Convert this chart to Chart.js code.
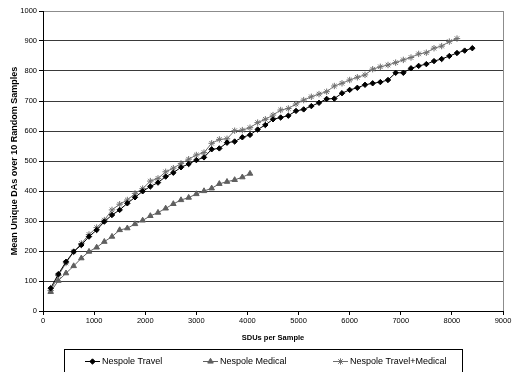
<!DOCTYPE html>
<html>
<head>
<meta charset="utf-8">
<script src="https://cdn.jsdelivr.net/npm/chart.js@4/dist/chart.umd.min.js"></script>
<style>
  html, body { margin: 0; padding: 0; background: #fff; }
  #wrap { width: 512px; height: 372px; }
</style>
</head>
<body>
<div id="wrap"><canvas id="lineChart" width="512" height="372"></canvas></div>
<script>
/*==========================================================
DATOS
==========================================================*/
// SDUs per sample (x) shared by the three series
var sduSteps = [150, 300, 450, 600, 750, 900, 1050, 1200, 1350, 1500, 1650, 1800, 1950, 2100,
  2250, 2400, 2550, 2700, 2850, 3000, 3150, 3300, 3450, 3600, 3750, 3900, 4050, 4200,
  4350, 4500, 4650, 4800, 4950, 5100, 5250, 5400, 5550, 5700, 5850, 6000, 6150, 6300,
  6450, 6600, 6750, 6900, 7050, 7200, 7350, 7500, 7650, 7800, 7950, 8100, 8250, 8400];

var seriesNames = ["Nespole Travel", "Nespole Medical", "Nespole Travel+Medical"];

var travelValues = [76, 123, 164, 198, 220, 248, 270, 298, 320, 337, 359, 379, 399, 415,
  428, 448, 461, 479, 490, 503, 512, 539, 542, 561, 565, 579, 587, 605,
  620, 639, 645, 651, 667, 672, 683, 694, 707, 708, 726, 737, 744, 754,
  759, 763, 770, 794, 794, 809, 817, 823, 833, 840, 850, 860, 868, 876];

var medicalValues = [64, 101, 126, 150, 176, 198, 212, 231, 248, 270, 276, 290, 302, 317,
  328, 342, 357, 370, 378, 390, 400, 409, 424, 431, 437, 446, 458];

var travelMedicalValues = [68, 118, 160, 197, 225, 255, 278, 303, 337, 356, 370, 392, 408, 433,
  442, 464, 476, 492, 506, 520, 528, 559, 572, 574, 601, 603, 611, 628,
  639, 653, 670, 675, 690, 703, 714, 723, 731, 750, 759, 770, 779, 787,
  806, 814, 820, 828, 837, 845, 857, 861, 876, 883, 898, 908];

var xTicks = [0, 1000, 2000, 3000, 4000, 5000, 6000, 7000, 8000, 9000];
var yTicks = [0, 100, 200, 300, 400, 500, 600, 700, 800, 900, 1000];

/*==========================================================
UTILIDADES
==========================================================*/
function toPoints(values) {
  return values.map(function (v, i) {
    return { x: sduSteps[i], y: v };
  });
}

function plainNumber(value) {
  return String(value);
}

// marco gris derecho del area de trazado
var plotFrame = {
  id: "plotFrame",
  beforeDatasetsDraw: function (chart) {
    var a = chart.chartArea, ctx = chart.ctx;
    ctx.save();
    ctx.strokeStyle = "#8c8c8c";
    ctx.lineWidth = 1;
    ctx.beginPath();
    ctx.moveTo(Math.round(a.right) + 0.5, a.top);
    ctx.lineTo(Math.round(a.right) + 0.5, a.bottom);
    ctx.stroke();
    ctx.restore();
  }
};

// leyenda con caja, linea + marcador
var boxedLegend = {
  id: "boxedLegend",
  afterDraw: function (chart) {
    var ctx = chart.ctx;
    var itemX = [85, 203, 333];
    var yMid = 361;
    ctx.save();
    ctx.strokeStyle = "#000";
    ctx.lineWidth = 1;
    ctx.strokeRect(64.5, 349.5, 398, 40);
    ctx.font = "9px 'Liberation Sans', Arial, sans-serif";
    ctx.textBaseline = "middle";
    chart.data.datasets.forEach(function (ds, i) {
      var x0 = itemX[i];
      ctx.strokeStyle = ds.borderColor;
      ctx.lineWidth = 1;
      ctx.beginPath();
      ctx.moveTo(x0, yMid + 0.5);
      ctx.lineTo(x0 + 15, yMid + 0.5);
      ctx.stroke();
      ctx.fillStyle = ds.pointBackgroundColor;
      ctx.strokeStyle = ds.pointBorderColor;
      Chart.helpers.drawPoint(ctx, {
        pointStyle: ds.pointStyle,
        radius: ds.pointRadius,
        borderWidth: ds.pointBorderWidth,
        rotation: 0
      }, x0 + 7.5, yMid + 0.5);
      ctx.fillStyle = "#000";
      ctx.fillText(ds.label, x0 + 17, yMid + 1);
    });
    ctx.restore();
  }
};

/*==========================================================
GRAFICO
==========================================================*/
function mostrarGrafico() {
  var ctxL = document.getElementById("lineChart").getContext("2d");
  var tickFont = { family: "'Liberation Sans', Arial, sans-serif", size: 7.5 };

  new Chart(ctxL, {
    type: "line",
    data: {
      datasets: [
        {
          label: seriesNames[0],
          data: toPoints(travelValues),
          borderColor: "#000000",
          borderWidth: 1,
          pointStyle: "rectRot",
          pointRadius: 2.7,
          pointBackgroundColor: "#000000",
          pointBorderColor: "#000000",
          pointBorderWidth: 1
        },
        {
          label: seriesNames[1],
          data: toPoints(medicalValues),
          borderColor: "#5f5f5f",
          borderWidth: 1,
          pointStyle: "triangle",
          pointRadius: 3.2,
          pointBackgroundColor: "#5f5f5f",
          pointBorderColor: "#5f5f5f",
          pointBorderWidth: 1
        },
        {
          label: seriesNames[2],
          data: toPoints(travelMedicalValues),
          borderColor: "#6e6e6e",
          borderWidth: 1,
          pointStyle: "star",
          pointRadius: 3.2,
          pointBackgroundColor: "#6e6e6e",
          pointBorderColor: "#6e6e6e",
          pointBorderWidth: 1
        }
      ]
    },
    options: {
      responsive: false,
      animation: false,
      layout: { padding: { top: 11, right: 9, bottom: 0, left: 0 } },
      plugins: {
        legend: { display: false },
        tooltip: { enabled: false }
      },
      scales: {
        x: {
          type: "linear",
          min: 0,
          max: 9000,
          afterBuildTicks: function (scale) {
            scale.ticks = xTicks.map(function (v) { return { value: v }; });
          },
          ticks: { color: "#000", font: tickFont, padding: 1, maxRotation: 0, callback: plainNumber },
          grid: { drawOnChartArea: false, tickLength: 4, tickColor: "#000" },
          border: { color: "#000", width: 1 },
          title: {
            display: true,
            text: "SDUs per Sample",
            color: "#000",
            font: { family: "'Liberation Sans', Arial, sans-serif", size: 7.5, weight: "bold" },
            padding: { top: 0, bottom: 30 }
          },
          afterFit: function (scale) {
            scale.height = 61;
            scale.paddingLeft = 0;
            scale.paddingRight = 0;
          }
        },
        y: {
          min: 0,
          max: 1000,
          afterBuildTicks: function (scale) {
            scale.ticks = yTicks.map(function (v) { return { value: v }; });
          },
          ticks: { color: "#000", font: tickFont, padding: 2, callback: plainNumber },
          grid: {
            color: function (c) {
              return c.tick && c.tick.value === 1000 ? "#8c8c8c" : "#3a3a3a";
            },
            tickColor: "#000",
            tickLength: 4
          },
          border: { color: "#000", width: 1 },
          title: {
            display: true,
            text: "Mean Unique DAs over 10 Random Samples",
            color: "#000",
            font: { family: "'Liberation Sans', Arial, sans-serif", size: 9, weight: "bold" },
            padding: { top: 9, bottom: 0 }
          },
          afterFit: function (scale) {
            scale.width = 43;
            scale.paddingTop = 0;
            scale.paddingBottom = 0;
          }
        }
      }
    },
    plugins: [plotFrame, boxedLegend]
  });
}

mostrarGrafico();
</script>
</body>
</html>
